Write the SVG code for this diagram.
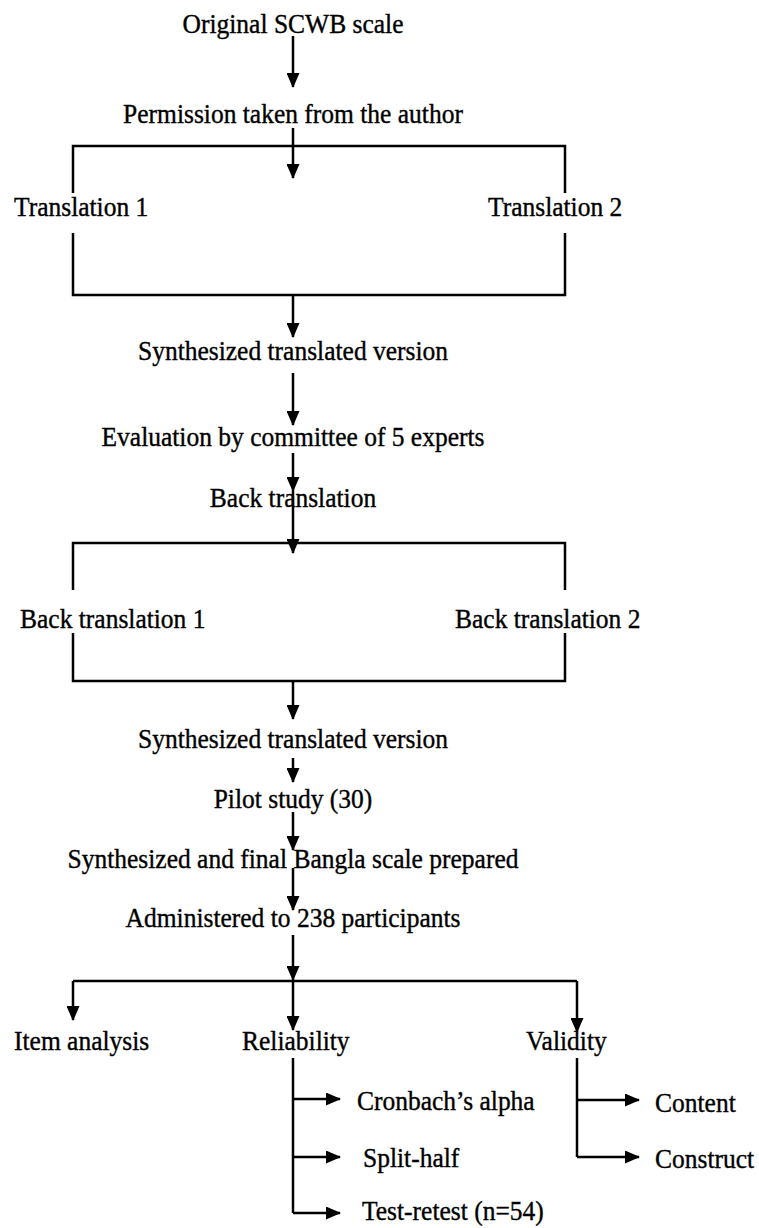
<svg xmlns="http://www.w3.org/2000/svg" width="759" height="1228" viewBox="0 0 759 1228">
<style>
text{font-family:"Liberation Serif","Times New Roman",serif;font-size:25.5px;fill:#000;stroke:#000;stroke-width:0.35}
.c{text-anchor:middle}
.ln{stroke:#000;stroke-width:2.5;fill:none}
.ar{stroke:#000;stroke-width:2.5;fill:none;marker-end:url(#ah)}
</style>
<defs>
<marker id="ah" markerUnits="userSpaceOnUse" markerWidth="15" markerHeight="13" refX="14" refY="6.5" orient="auto">
<path d="M0,0 L15,6.5 L0,13 z" fill="#000"/>
</marker>
</defs>
<rect width="759" height="1228" fill="#fff"/>
<g id="connectors">
<path class="ar" d="M293,36 V87"/>
<path class="ar" d="M293,128 V178"/>
<path class="ln" d="M73,193 V146 H565 V193"/>
<path class="ln" d="M73,233 V295 H565 V233"/>
<path class="ar" d="M293,295 V337"/>
<path class="ar" d="M293,373 V425"/>
<path class="ar" d="M293,453 V491"/>
<path class="ar" d="M293,491 V553"/>
<path class="ln" d="M73,590 V543 H565 V590"/>
<path class="ln" d="M73,633 V681 H565 V633"/>
<path class="ar" d="M293,681 V719"/>
<path class="ar" d="M293,758 V782"/>
<path class="ar" d="M293,812 V850"/>
<path class="ar" d="M293,868 V910"/>
<path class="ar" d="M293,935 V980"/>
<path class="ln" d="M73,981 H577"/>
<path class="ar" d="M73,981 V1020"/>
<path class="ar" d="M293,981 V1030"/>
<path class="ar" d="M577,981 V1032"/>
<path class="ln" d="M293,1058 V1213"/>
<path class="ar" d="M293,1099 H340"/>
<path class="ar" d="M293,1157 H340"/>
<path class="ar" d="M293,1213 H340"/>
<path class="ln" d="M577,1058 V1157"/>
<path class="ar" d="M577,1100 H639"/>
<path class="ar" d="M577,1157 H639"/>
</g>
<g id="n1" transform="translate(293,33) scale(1,1.1)"><text class="c">Original SCWB scale</text></g>
<g id="n2" transform="translate(293,123) scale(1,1.1)"><text class="c">Permission taken from the author</text></g>
<g id="n3" transform="translate(14,216) scale(1,1.1)"><text>Translation 1</text></g>
<g id="n4" transform="translate(488,216) scale(1,1.1)"><text>Translation 2</text></g>
<g id="n5" transform="translate(293,360) scale(1,1.1)"><text class="c">Synthesized translated version</text></g>
<g id="n6" transform="translate(293,446) scale(1,1.1)"><text class="c">Evaluation by committee of 5 experts</text></g>
<g id="n7" transform="translate(293,507) scale(1,1.1)"><text class="c">Back translation</text></g>
<g id="n8" transform="translate(20,628) scale(1,1.1)"><text>Back translation 1</text></g>
<g id="n9" transform="translate(455,628) scale(1,1.1)"><text>Back translation 2</text></g>
<g id="n10" transform="translate(293,748) scale(1,1.1)"><text class="c">Synthesized translated version</text></g>
<g id="n11" transform="translate(293,808) scale(1,1.1)"><text class="c">Pilot study (30)</text></g>
<g id="n12" transform="translate(293,868) scale(1,1.1)"><text class="c">Synthesized and final Bangla scale prepared</text></g>
<g id="n13" transform="translate(293,927) scale(1,1.1)"><text class="c">Administered to 238 participants</text></g>
<g id="n14" transform="translate(14,1050) scale(1,1.1)"><text>Item analysis</text></g>
<g id="n15" transform="translate(242,1050) scale(1,1.1)"><text>Reliability</text></g>
<g id="n16" transform="translate(526,1050) scale(1,1.1)"><text>Validity</text></g>
<g id="n17" transform="translate(357,1110) scale(1,1.1)"><text>Cronbach’s alpha</text></g>
<g id="n18" transform="translate(363,1167) scale(1,1.1)"><text>Split-half</text></g>
<g id="n19" transform="translate(362,1220) scale(1,1.1)"><text>Test-retest (n=54)</text></g>
<g id="n20" transform="translate(655,1112) scale(1,1.1)"><text>Content</text></g>
<g id="n21" transform="translate(655,1168) scale(1,1.1)"><text>Construct</text></g>
</svg>
